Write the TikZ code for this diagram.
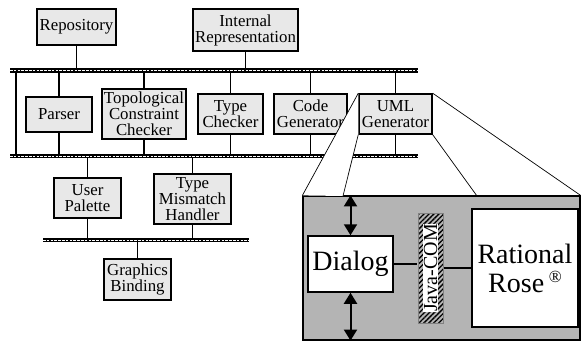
\documentclass[tikz,border=0pt]{standalone}
\usepackage{fontspec}
\setmainfont{Liberation Serif}
\usetikzlibrary{arrows.meta,patterns.meta}
\definecolor{boxGray}{RGB}{232,232,232}
\definecolor{panelGray}{RGB}{180,180,180}

\begin{document}
\begin{tikzpicture}[
    x=1pt, y=-1pt,
    % tool modules
    module/.style={
        draw, line width=1.5pt, fill=boxGray,
        align=center, inner sep=0pt,
        font=\fontsize{16.8}{16}\selectfont
    },
    % buses (black band with white dashes)
    bus/.style={
        white, line width=1pt, dash pattern=on 2.5pt off 1.3pt,
        preaction={draw=black, solid, line width=4.5pt}
    },
    link/.style={line width=1.5pt},
    zoomline/.style={line width=0.7pt},
    % blow-up of the UML generator
    panel/.style={draw, line width=1.2pt, fill=panelGray,
        minimum width=277pt, minimum height=144pt},
    part/.style={draw, line width=1.5pt, fill=white, align=center,
        inner sep=0pt, font=\fontsize{28}{29}\selectfont},
    bridge/.style={draw=gray, line width=0.5pt,
        pattern={Lines[angle=45, distance=3.5pt, line width=1.3pt]},
        minimum width=25pt, minimum height=110pt},
    dblarrow/.style={{Triangle[width=13pt,length=11pt]}-{Triangle[width=13pt,length=11pt]},
        line width=2pt}
]
    \useasboundingbox (0,0) rectangle (581,341);

    % --- bus end points ---
    \coordinate (busAw) at (10,70.5);
    \coordinate (busAe) at (418,70.5);
    \coordinate (busBw) at (10,156);
    \coordinate (busBe) at (418,156);
    \coordinate (busCw) at (43,240);
    \coordinate (busCe) at (249,240);
    \coordinate (tapA) at (16,70.5);
    \coordinate (tapB) at (16,156);

    % --- modules ---
    \node[module, minimum width=79pt, minimum height=36pt] (repo) at (76.5,27) {Repository};
    \node[module, minimum width=105pt, minimum height=42pt] (intrep) at (245.5,30) {Internal\\Representation};

    \node[module, minimum width=66pt, minimum height=35pt] (parser) at (59,114.5) {Parser};
    \node[module, minimum width=84pt, minimum height=50pt] (topo) at (144,114) {Topological\\Constraint\\Checker};
    \node[module, minimum width=65pt, minimum height=40pt] (typech) at (230.5,114) {Type\\Checker};
    \node[module, minimum width=73pt, minimum height=40pt] (codegen) at (310.5,114) {Code\\Generator};
    \node[module, minimum width=73pt, minimum height=40pt] (uml) at (395.5,114) {UML\\Generator};

    \node[module, minimum width=67pt, minimum height=40pt] (palette) at (87.5,198) {User\\Palette};
    \node[module, minimum width=77pt, minimum height=50pt] (mismatch) at (192.5,199) {Type\\Mismatch\\Handler};

    \node[module, minimum width=67pt, minimum height=41pt] (gfx) at (137.5,279.5) {Graphics\\Binding};

    % --- connectors to the buses ---
    \draw[link] (repo) -- (repo |- busAw);
    \draw[link] (intrep) -- (intrep |- busAw);
    \draw[link] (tapA) -- (tapB);
    \foreach \m in {parser,topo,typech,codegen,uml} {
        \draw[link] (\m) -- (\m |- busAw);
        \draw[link] (\m) -- (\m |- busBw);
    }
    \foreach \m in {palette,mismatch} {
        \draw[link] (\m) -- (\m |- busBw);
        \draw[link] (\m) -- (\m |- busCw);
    }
    \draw[link] (gfx) -- (gfx |- busCw);

    % --- buses ---
    \draw[bus] (busAw) -- (busAe);
    \draw[bus] (busBw) -- (busBe);
    \draw[bus] (busCw) -- (busCe);

    % --- zoom into the UML generator ---
    \node[panel] (panel) at (441.5,268) {};
    \coordinate (zoomL) at (343,196);
    \coordinate (zoomR) at (477,196);
    \fill[white] (uml.north west) -- (panel.north west) -- (zoomL) -- (uml.south west) -- cycle;
    \draw[zoomline] (uml.north west) -- (panel.north west);
    \draw[zoomline] (uml.south west) -- (zoomL);
    \draw[zoomline] (uml.south east) -- (zoomR);
    \draw[zoomline] (uml.north east) -- (panel.north east);

    \node[part, minimum width=85pt, minimum height=56pt] (dialog) at (350.5,264) {Dialog};
    \node[part, minimum width=106pt, minimum height=118pt] (rose) at (525,268)
        {Rational\\Rose\,\raisebox{10pt}{\fontsize{17}{17}\selectfont\textregistered}};
    \node[bridge] (javacom) at (430.5,268) {};
    \node[fill=white, inner sep=0.5pt, rotate=90, font=\fontsize{20}{20}\selectfont] (javalbl) at (javacom) {Java-COM};

    \draw[link] (dialog.east) -- (javacom.west |- dialog.east);
    \draw[link] (javacom.east |- rose.west) -- (rose.west);
    \draw[dblarrow] (dialog.north |- panel.north) -- (dialog.north);
    \draw[dblarrow] (dialog.south) -- (dialog.south |- panel.south);
\end{tikzpicture}
\end{document}
